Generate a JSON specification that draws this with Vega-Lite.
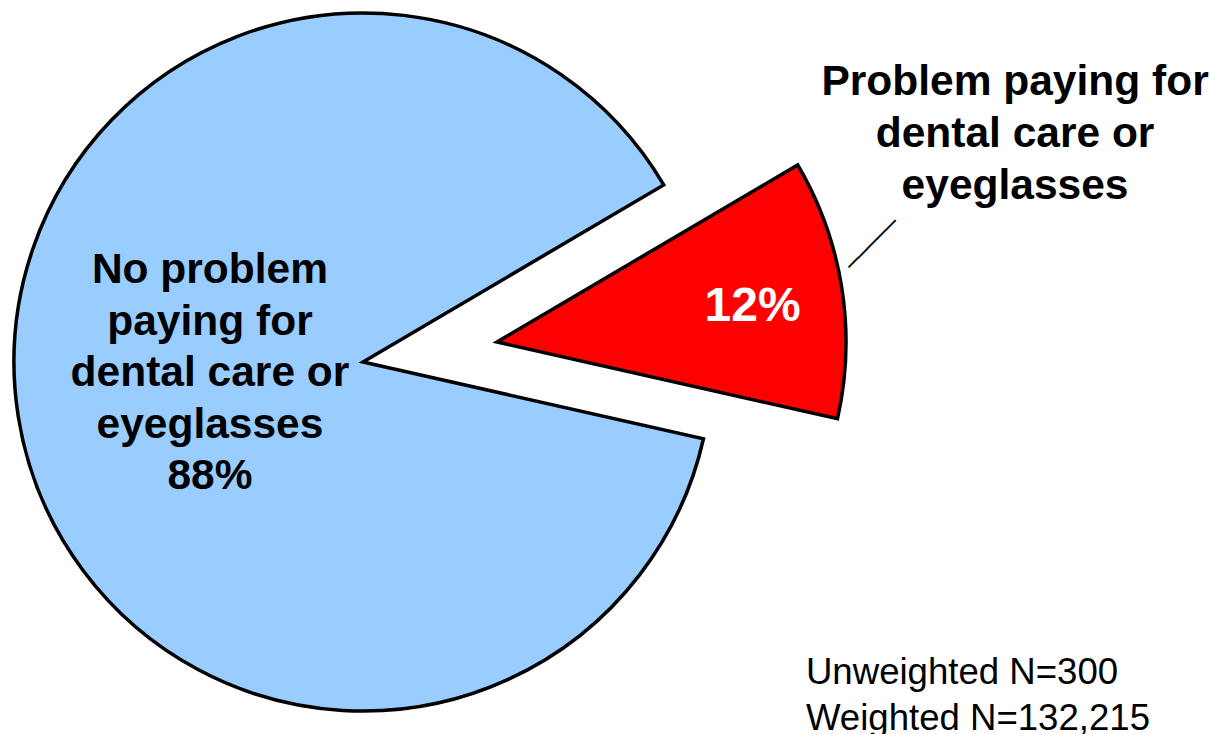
{
  "$schema": "https://vega.github.io/schema/vega-lite/v6.json",
  "width": 698,
  "height": 698,
  "autosize": "none",
  "padding": {"left": 14, "top": 13, "right": 503, "bottom": 23},
  "background": "white",
  "config": {"view": {"stroke": null}, "font": "Liberation Sans"},
  "data": {"values": [
    {"cat": "No problem", "pct": 88, "label": "No problem\npaying for\ndental care or\neyeglasses\n88%"},
    {"cat": "Problem", "pct": 12, "label": "12%"}
  ]},
  "encoding": {
    "theta": {"field": "pct", "type": "quantitative", "stack": true, "scale": {"domain": [0, 100], "range": [1.7925, 8.0757]}},
    "order": {"field": "pct", "type": "quantitative", "sort": "descending"},
    "detail": {"field": "cat", "type": "nominal"}
  },
  "layer": [
    {
      "mark": {"type": "arc", "stroke": "black", "strokeWidth": 3.5, "strokeJoin": "miter"},
      "encoding": {
        "color": {"field": "cat", "type": "nominal", "scale": {"domain": ["No problem", "Problem"], "range": ["#99CCFF", "#FF0000"]}, "legend": null},
        "opacity": {"condition": {"test": "datum.cat === 'Problem'", "value": 0}, "value": 1}
      }
    },
    {
      "mark": {"type": "arc", "stroke": "black", "strokeWidth": 3.5, "strokeJoin": "miter", "xOffset": 134, "yOffset": -20},
      "encoding": {
        "color": {"field": "cat", "type": "nominal", "legend": null},
        "opacity": {"condition": {"test": "datum.cat === 'Problem'", "value": 1}, "value": 0}
      }
    },
    {
      "mark": {"type": "text", "radius": 178.5, "thetaOffset": 0.696, "fontSize": 42.5, "fontWeight": "bold", "lineBreak": "\n", "lineHeight": 51.5, "align": "center", "baseline": "middle", "color": "black"},
      "encoding": {
        "text": {"field": "label"},
        "opacity": {"condition": {"test": "datum.cat === 'Problem'", "value": 0}, "value": 1}
      }
    },
    {
      "mark": {"type": "text", "radius": 258, "thetaOffset": 0.019, "xOffset": 134, "yOffset": -20, "fontSize": 48, "fontWeight": "bold", "align": "center", "baseline": "middle", "color": "white"},
      "encoding": {
        "text": {"field": "label"},
        "opacity": {"condition": {"test": "datum.cat === 'Problem'", "value": 1}, "value": 0}
      }
    },
    {
      "mark": {"type": "text", "radius": 579.6, "thetaOffset": -0.3098, "xOffset": 134, "yOffset": -20, "fontSize": 42.5, "fontWeight": "bold", "lineHeight": 52, "align": "center", "baseline": "middle", "color": "black", "text": ["Problem paying for", "dental care or", "eyeglasses"]},
      "encoding": {
        "opacity": {"condition": {"test": "datum.cat === 'Problem'", "value": 1}, "value": 0}
      }
    },
    {
      "mark": {"type": "text", "radius": 388, "thetaOffset": -0.0995, "xOffset": 134, "yOffset": -20, "font": "DejaVu Sans Mono", "fontSize": 22, "angle": -45, "align": "center", "baseline": "middle", "color": "black", "text": "─────"},
      "encoding": {
        "opacity": {"condition": {"test": "datum.cat === 'Problem'", "value": 1}, "value": 0}
      }
    },
    {
      "mark": {"type": "text", "radius": 541.3, "thetaOffset": -2.374, "fontSize": 36.6, "lineHeight": 46, "align": "left", "baseline": "middle", "color": "black", "text": ["Unweighted N=300", "Weighted N=132,215"]},
      "encoding": {
        "opacity": {"condition": {"test": "datum.cat === 'Problem'", "value": 0}, "value": 1}
      }
    }
  ]
}
